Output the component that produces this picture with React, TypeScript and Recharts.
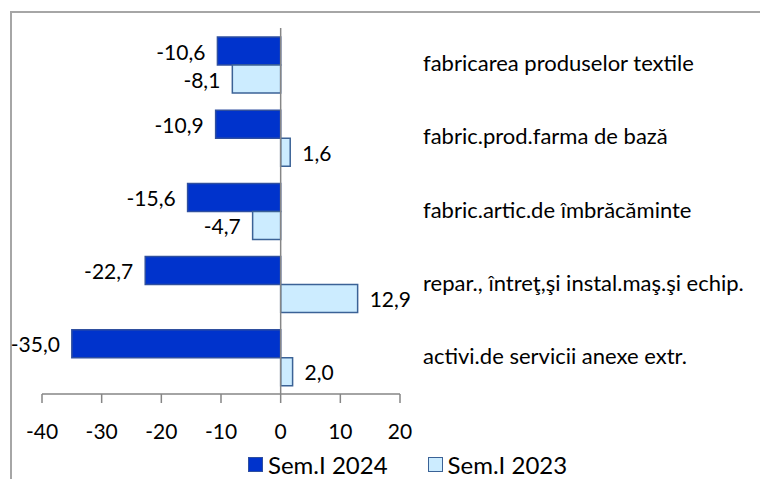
import { BarChart, Bar, XAxis, YAxis, ReferenceLine, Legend, LabelList } from 'recharts';

const categories = [
  'fabricarea produselor textile',
  'fabric.prod.farma de bază',
  'fabric.artic.de îmbrăcăminte',
  'repar., întreţ,şi instal.maş.şi echip.',
  'activi.de servicii anexe extr.',
];
const sem2024 = [-10.6, -10.9, -15.6, -22.7, -35.0];
const sem2023 = [-8.1, 1.6, -4.7, 12.9, 2.0];
const xTicks = [-40, -30, -20, -10, 0, 10, 20];

const data = categories.map((name, i) => ({ name, s2024: sem2024[i], s2023: sem2023[i] }));

const FONT = 'Lato, "DejaVu Sans", sans-serif';
const FS = 21;

const fmt = (v: number) => v.toFixed(1).replace('.', ',');

const ValueLabel = (props: any) => {
  const { x, y, width, height, value } = props;
  const left = Math.min(x, x + width);
  const right = Math.max(x, x + width);
  const neg = Number(value) < 0;
  return (
    <text
      x={neg ? left - 12 : right + 12}
      y={y + height / 2}
      textAnchor={neg ? 'end' : 'start'}
      dominantBaseline="central"
      fontSize={FS}
      fontFamily={FONT}
      fill="#000"
    >
      {fmt(Number(value))}
    </text>
  );
};

const CategoryTick = (props: any) => {
  const { x, y, payload } = props;
  return (
    <text x={x + 23} y={y - 2} textAnchor="start" dominantBaseline="central" fontSize={22} fontFamily={FONT} fill="#000">
      {payload.value}
    </text>
  );
};

const renderLegend = () => (
  <div style={{ display: 'flex', alignItems: 'center', marginLeft: 248, height: 30, fontFamily: FONT, fontSize: 24, color: '#000' }}>
    <span style={{ width: 13, height: 13, background: '#0033CC', border: '1px solid #2F4F9F', marginRight: 5 }} />
    <span>Sem.I 2024</span>
    <span style={{ width: 13, height: 13, background: '#CCECFF', border: '1px solid #3B6296', marginLeft: 40, marginRight: 5 }} />
    <span>Sem.I 2023</span>
  </div>
);

export default function App() {
  return (
    <div style={{ position: 'fixed', left: 0, top: 0, width: 760, height: 479, overflow: 'hidden', background: '#fff' }}>
      <div
        style={{
          position: 'absolute',
          left: 10,
          top: 11,
          width: 800,
          height: 520,
          border: '2px solid #a6a6a6',
        }}
      />
      <div style={{ position: 'absolute', left: 0, top: 0 }}>
        <BarChart
          width={760}
          height={479}
          data={data}
          layout="vertical"
          margin={{ top: 28, right: 0, bottom: 0, left: 42 }}
          barSize={28}
          barGap={0}
        >
          <XAxis
            type="number"
            domain={[-40, 20]}
            ticks={xTicks}
            interval={0}
            height={55}
            axisLine={{ stroke: '#868686', strokeWidth: 1.5 }}
            tickLine={{ stroke: '#868686', strokeWidth: 1.5 }}
            tickSize={9}
            tickMargin={21}
            tick={{ fontSize: FS, fontFamily: FONT, fill: '#000' }}
          />
          <YAxis
            type="category"
            dataKey="name"
            orientation="right"
            width={360}
            axisLine={false}
            tickLine={false}
            tickSize={0}
            tickMargin={0}
            tick={<CategoryTick />}
          />
          <Legend verticalAlign="bottom" content={renderLegend} wrapperStyle={{ left: 0, width: 760 }} />
          <Bar dataKey="s2024" name="Sem.I 2024" fill="#0033CC" stroke="#2F4F9F" strokeWidth={1.5} isAnimationActive={false}>
            <LabelList dataKey="s2024" content={<ValueLabel />} />
          </Bar>
          <Bar dataKey="s2023" name="Sem.I 2023" fill="#CCECFF" stroke="#3B6296" strokeWidth={1.5} isAnimationActive={false}>
            <LabelList dataKey="s2023" content={<ValueLabel />} />
          </Bar>
          <ReferenceLine x={0} stroke="#868686" strokeWidth={1.5} />
        </BarChart>
      </div>
    </div>
  );
}
